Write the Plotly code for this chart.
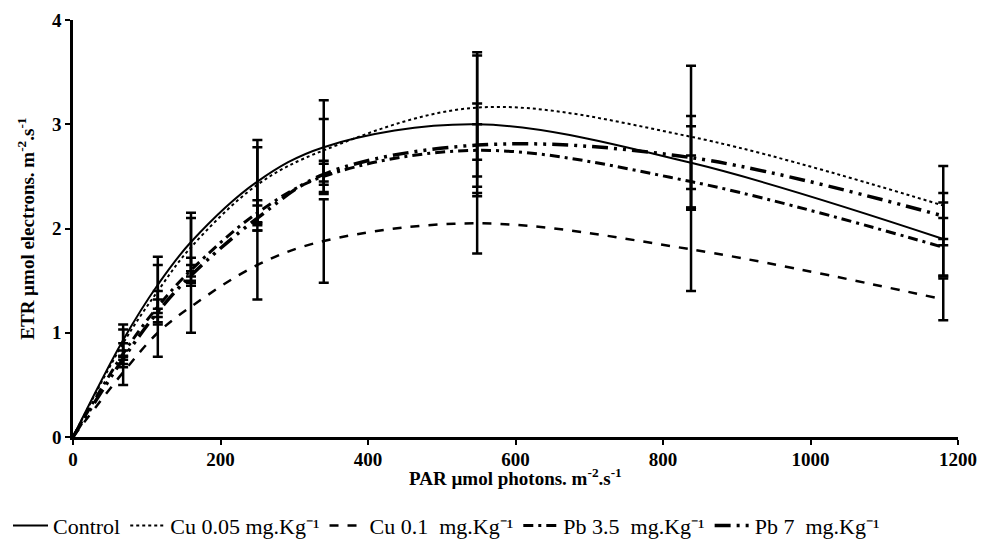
import plotly.graph_objects as go

par = [0, 68, 115, 160, 250, 340, 548, 838, 1180]

control = [0, 0.93, 1.46, 1.87, 2.45, 2.78, 3.00, 2.63, 1.90]
cu005 = [0, 0.90, 1.40, 1.82, 2.42, 2.75, 3.16, 2.88, 2.22]
cu01 = [0, 0.62, 1.00, 1.25, 1.65, 1.88, 2.05, 1.80, 1.32]
pb35 = [0, 0.80, 1.25, 1.60, 2.15, 2.50, 2.75, 2.45, 1.82]
pb7 = [0, 0.75, 1.20, 1.55, 2.10, 2.52, 2.80, 2.68, 2.12]

err_control = [0.15, 0.27, 0.28, 0.40, 0.45, 0.69, 0.45, 0.35]
err_cu005 = [0.13, 0.25, 0.28, 0.36, 0.30, 0.50, 0.68, 0.38]
err_cu01 = [0.12, 0.23, 0.25, 0.33, 0.40, 0.29, 0.40, 0.20]
err_pb35 = [0.10, 0.15, 0.12, 0.12, 0.15, 0.25, 0.25, 0.28]
err_pb7 = [0.08, 0.12, 0.10, 0.12, 0.10, 0.40, 0.30, 0.22]

names = ["Control", "Cu 0.05 mg.Kg⁻¹", "Cu 0.1  mg.Kg⁻¹", "Pb 3.5  mg.Kg⁻¹", "Pb 7  mg.Kg⁻¹"]
series = [control, cu005, cu01, pb35, pb7]
errors = [err_control, err_cu005, err_cu01, err_pb35, err_pb7]
dashes = ["solid", "dot", "dash", "10px,5px,3px,5px", "16px,6px,3px,6px,3px,6px"]
widths = [2, 2, 2.5, 3, 3.5]

x_title = "PAR µmol photons. m<sup>-2</sup>.s<sup>-1</sup>"
y_title = "ETR µmol electrons. m<sup>-2</sup>.s<sup>-1</sup>"

fig = go.Figure()
for name, y, e, d, w in zip(names, series, errors, dashes, widths):
    fig.add_trace(go.Scatter(
        x=par[1:], y=y[1:], mode="markers", showlegend=False,
        marker=dict(size=1, color="rgba(0,0,0,0)"),
        error_y=dict(type="data", array=e, visible=True, color="black", thickness=2.5, width=5),
        hoverinfo="skip"))
for name, y, e, d, w in zip(names, series, errors, dashes, widths):
    fig.add_trace(go.Scatter(
        x=par, y=y, mode="lines", name=name,
        line=dict(color="black", width=w, dash=d, shape="spline", smoothing=1.0)))

serif = "Liberation Serif"
fig.update_layout(
    width=983, height=537,
    margin=dict(l=65, r=33, t=12, b=108),
    plot_bgcolor="white", paper_bgcolor="white",
    font=dict(family=serif, color="black", size=19),
    legend=dict(orientation="h", xref="container", yref="container",
                x=0.0, xanchor="left", y=0.036, yanchor="middle",
                font=dict(family=serif, size=22, color="black"), itemwidth=35,
                traceorder="normal"),
    annotations=[
        dict(text=x_title, xref="paper", yref="paper", x=0.5, y=-0.095,
             xanchor="center", yanchor="middle", showarrow=False,
             font=dict(family=serif, size=19, weight="bold", color="black")),
        dict(text=y_title, xref="paper", yref="paper", x=-0.054, y=0.5, textangle=-90,
             xanchor="center", yanchor="middle", showarrow=False,
             font=dict(family=serif, size=19, weight="bold", color="black")),
    ],
)
fig.update_xaxes(range=[0, 1200], tickvals=[0, 200, 400, 600, 800, 1000, 1200],
                 showline=True, linecolor="black", linewidth=2.5, ticks="outside",
                 ticklen=5, tickwidth=2, tickcolor="black", showgrid=False, zeroline=False,
                 automargin=False, ticklabelstandoff=-2,
                 tickfont=dict(family=serif, size=19, weight="bold"))
fig.update_yaxes(range=[0, 4], tickvals=[0, 1, 2, 3, 4],
                 showline=True, linecolor="black", linewidth=2.5, ticks="outside",
                 ticklen=5, tickwidth=2, tickcolor="black", showgrid=False, zeroline=False,
                 automargin=False,
                 tickfont=dict(family=serif, size=19, weight="bold"))

fig.write_html("out.html")
